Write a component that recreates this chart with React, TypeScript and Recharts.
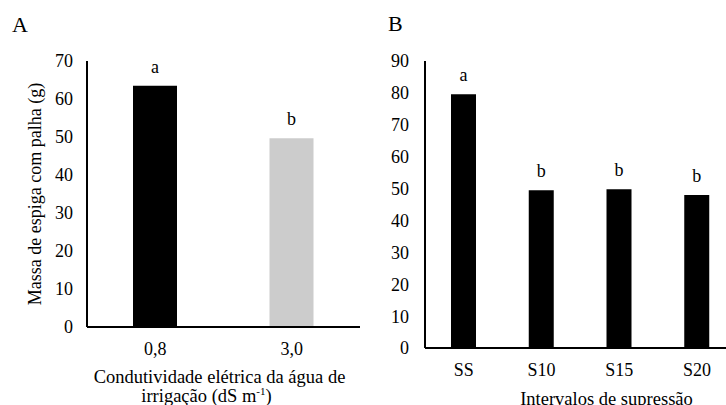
import React from "react";
import { BarChart, Bar, XAxis, YAxis, Cell, LabelList } from "recharts";

// Painel A: condutividade elétrica
const condCategories = ["0,8", "3,0"];
const condValues = [63.5, 49.7];
const condLetters = ["a", "b"];
const condColors = ["#000000", "#cccccc"];
const condTicks = [0, 10, 20, 30, 40, 50, 60, 70];

// Painel B: intervalos de supressão
const supCategories = ["SS", "S10", "S15", "S20"];
const supValues = [79.6, 49.5, 49.8, 48.0];
const supLetters = ["a", "b", "b", "b"];
const supTicks = [0, 10, 20, 30, 40, 50, 60, 70, 80, 90];

const FONT = "'Liberation Serif', 'Times New Roman', serif";
const tickStyle = { fontSize: 18, fill: "#000", fontFamily: FONT };
const letterStyle = { fontSize: 18, fontFamily: FONT, fill: "#000" };
const axisStyle = { stroke: "#000", strokeWidth: 2 };

const condData = condCategories.map((c, i) => ({
  name: c,
  value: condValues[i],
  letter: condLetters[i],
}));

const supData = supCategories.map((c, i) => ({
  name: c,
  value: supValues[i],
  letter: supLetters[i],
}));

export default function App() {
  return (
    <div
      style={{
        position: "absolute",
        left: 0,
        top: 0,
        width: 726,
        height: 405,
        overflow: "hidden",
        background: "#fff",
        fontFamily: FONT,
      }}
    >
      <div style={{ position: "absolute", left: 12, top: 12, fontSize: 22, lineHeight: "26px" }}>A</div>
      <div style={{ position: "absolute", left: 388, top: 11, fontSize: 22, lineHeight: "26px" }}>B</div>

      <div style={{ position: "absolute", left: 0, top: 0 }}>
        <BarChart
          width={363}
          height={405}
          data={condData}
          style={{ fontFamily: FONT }}
          margin={{ top: 61, right: 3, bottom: 48, left: 0 }}
        >
          <YAxis
            width={87}
            domain={[0, 70]}
            ticks={condTicks}
            interval={0}
            tickLine={false}
            tickSize={0}
            tickMargin={14}
            axisLine={axisStyle}
            tick={tickStyle}
            label={({ viewBox }: any) => {
              const cx = 35;
              const cy = viewBox.y + viewBox.height / 2;
              return (
                <text
                  x={cx}
                  y={cy}
                  transform={`rotate(-90 ${cx} ${cy})`}
                  textAnchor="middle"
                  dominantBaseline="central"
                  style={{ fontSize: 18, fontFamily: FONT, fill: "#000" }}
                >
                  Massa de espiga com palha (g)
                </text>
              );
            }}
          />
          <XAxis
            dataKey="name"
            height={30}
            tickLine={false}
            tickSize={0}
            tickMargin={15}
            axisLine={axisStyle}
            tick={tickStyle}
            label={({ viewBox }: any) => {
              const cx = viewBox.x + viewBox.width / 2;
              return (
                <g style={{ fontSize: 18.5, fontFamily: FONT, fill: "#000" }}>
                  <text x={cx - 4} y={383} textAnchor="middle">
                    Condutividade elétrica da água de
                  </text>
                  <text x={cx - 17} y={402} textAnchor="middle">
                    irrigação (dS m
                    <tspan dy={-7} fontSize={11}>-1</tspan>
                    <tspan dy={7}>)</tspan>
                  </text>
                </g>
              );
            }}
          />
          <Bar dataKey="value" barSize={44} isAnimationActive={false}>
            {condData.map((d, i) => (
              <Cell key={d.name} fill={condColors[i]} />
            ))}
            <LabelList dataKey="letter" position="top" offset={13} style={letterStyle} />
          </Bar>
        </BarChart>
      </div>

      <div style={{ position: "absolute", left: 363, top: 0 }}>
        <BarChart
          width={380}
          height={405}
          data={supData}
          style={{ fontFamily: FONT }}
          margin={{ top: 61, right: 7, bottom: 27, left: 0 }}
        >
          <YAxis
            width={62}
            domain={[0, 90]}
            ticks={supTicks}
            interval={0}
            tickLine={false}
            tickSize={0}
            tickMargin={16}
            axisLine={axisStyle}
            tick={tickStyle}
          />
          <XAxis
            dataKey="name"
            height={30}
            tickLine={false}
            tickSize={0}
            tickMargin={15}
            axisLine={axisStyle}
            tick={tickStyle}
            label={({ viewBox }: any) => {
              const cx = viewBox.x + viewBox.width / 2 + 26;
              return (
                <text
                  x={cx}
                  y={405}
                  textAnchor="middle"
                  style={{ fontSize: 18.5, fontFamily: FONT, fill: "#000" }}
                >
                  Intervalos de supressão
                </text>
              );
            }}
          />
          <Bar dataKey="value" fill="#000" barSize={25} isAnimationActive={false}>
            <LabelList dataKey="letter" position="top" offset={13} style={letterStyle} />
          </Bar>
        </BarChart>
      </div>
    </div>
  );
}
